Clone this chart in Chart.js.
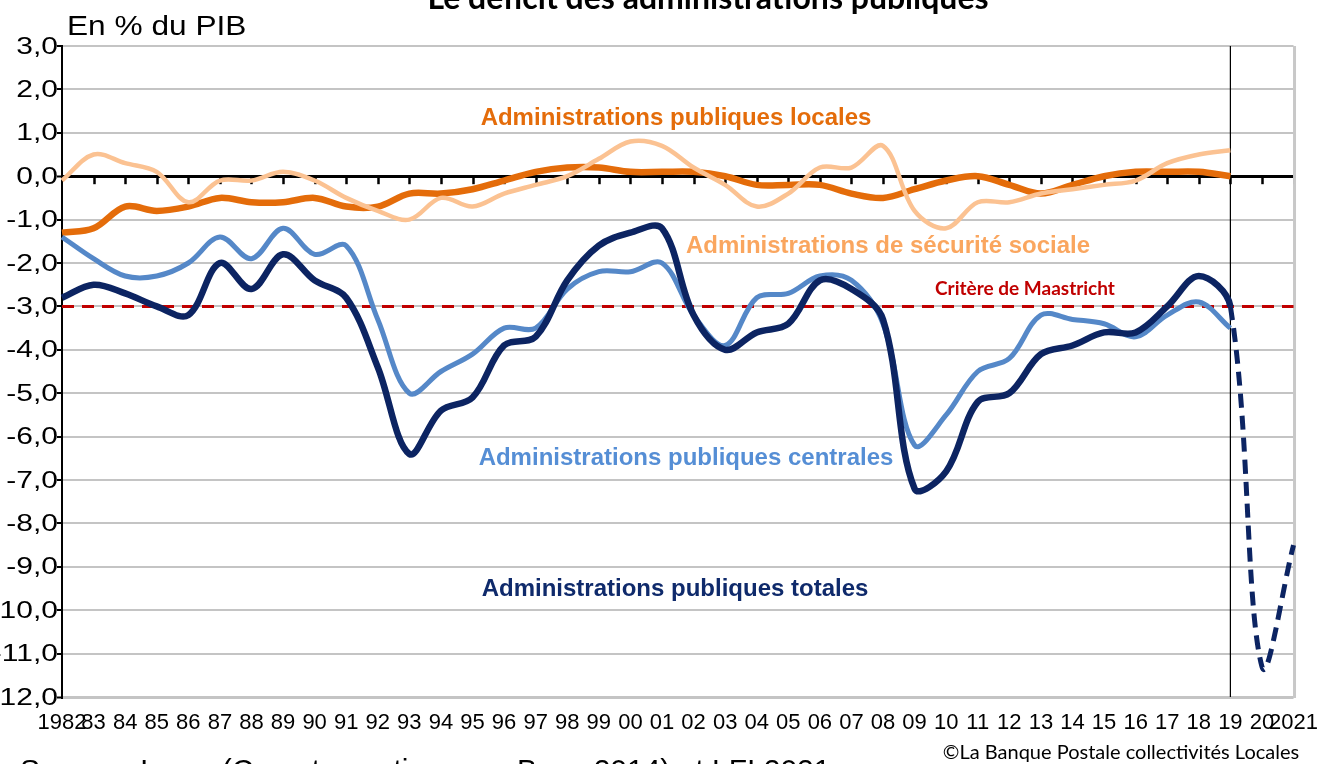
<!DOCTYPE html>
<html lang="fr">
<head>
<meta charset="utf-8">
<title>Le déficit des administrations publiques</title>
<script src="https://cdn.jsdelivr.net/npm/chart.js@4.4.1/dist/chart.umd.min.js"></script>
<style>
  html, body { margin: 0; padding: 0; background: #fff; }
  #wrap { width: 1331px; height: 764px; }
</style>
</head>
<body>
<div id="wrap"><canvas id="deficitChart" width="1331" height="764"></canvas></div>
<script>
// Années (étiquettes de l'axe horizontal)
const years = ['1982', '83', '84', '85', '86', '87', '88', '89', '90', '91',
    '92', '93', '94', '95', '96', '97', '98', '99', '00', '01',
    '02', '03', '04', '05', '06', '07', '08', '09', '10', '11',
    '12', '13', '14', '15', '16', '17', '18', '19', '20', '2021'];

// Solde en % du PIB, 1982 -> 2019
const apuLocales = [-1.3, -1.2, -0.7, -0.8, -0.7, -0.5, -0.6, -0.6, -0.5, -0.7,
    -0.7, -0.4, -0.4, -0.3, -0.1, 0.1, 0.2, 0.2, 0.1, 0.1,
    0.1, 0.0, -0.2, -0.2, -0.2, -0.4, -0.5, -0.3, -0.1, 0.0,
    -0.2, -0.4, -0.2, 0.0, 0.1, 0.1, 0.1, 0.0];

const securiteSociale = [-0.1, 0.5, 0.3, 0.1, -0.6, -0.1, -0.1, 0.1, -0.1, -0.5,
    -0.8, -1.0, -0.5, -0.7, -0.4, -0.2, 0.0, 0.4, 0.8, 0.7,
    0.2, -0.2, -0.7, -0.4, 0.2, 0.2, 0.7, -0.8, -1.2, -0.6,
    -0.6, -0.4, -0.3, -0.2, -0.1, 0.3, 0.5, 0.6];

const apuCentrales = [-1.4, -1.9, -2.3, -2.3, -2.0, -1.4, -1.9, -1.2, -1.8, -1.6,
    -3.3, -5.0, -4.5, -4.1, -3.5, -3.5, -2.6, -2.2, -2.2, -2.0,
    -3.2, -3.9, -2.8, -2.7, -2.3, -2.4, -3.4, -6.2, -5.5, -4.5,
    -4.2, -3.2, -3.3, -3.4, -3.7, -3.2, -2.9, -3.5];

// Total, 1982 -> 2021 (2020 et 2021 en prévision)
const apuTotales = [-2.8, -2.5, -2.7, -3.0, -3.2, -2.0, -2.6, -1.8, -2.4, -2.8,
    -4.4, -6.4, -5.4, -5.1, -3.9, -3.7, -2.4, -1.6, -1.3, -1.2,
    -3.2, -4.0, -3.6, -3.4, -2.4, -2.6, -3.3, -7.2, -6.8, -5.2,
    -5.0, -4.1, -3.9, -3.6, -3.6, -3.0, -2.3, -3.0, -11.3, -8.5];

const maastricht = -3;
const forecastFrom = '19';
const yMin = -12, yMax = 3;

const forecastIndex = years.indexOf(forecastFrom);
const fmt = v => v.toFixed(1).replace('.', ',');

// texte étiré horizontalement comme dans l'original
function stretchedText(ctx, text, x, y, sx) {
    ctx.save();
    ctx.translate(x, y);
    ctx.scale(sx, 1);
    ctx.fillText(text, 0, 0);
    ctx.restore();
}

const decorations = {
    id: 'decorations',
    beforeDatasetsDraw(chart) {
        const { ctx, chartArea, scales: { x, y } } = chart;
        const y0 = y.getPixelForValue(0);
        ctx.save();
        // graduations sous l'axe du zéro
        ctx.strokeStyle = '#000';
        ctx.lineWidth = 2.5;
        for (let i = 1; i < years.length; i++) {
            const px = Math.round(x.getPixelForValue(i)) + 0.5;
            ctx.beginPath();
            ctx.moveTo(px, y0);
            ctx.lineTo(px, y0 + 8);
            ctx.stroke();
        }
        // bord droit de la zone de tracé
        ctx.strokeStyle = '#c8c8c8';
        ctx.lineWidth = 3;
        ctx.beginPath();
        ctx.moveTo(chartArea.right + 1, chartArea.top);
        ctx.lineTo(chartArea.right + 1, chartArea.bottom + 1);
        ctx.stroke();

        // étiquettes de l'axe vertical
        ctx.fillStyle = '#000';
        ctx.textAlign = 'right';
        ctx.textBaseline = 'middle';
        ctx.font = '24px "Liberation Sans", Arial, sans-serif';
        y.ticks.forEach(t => {
            stretchedText(ctx, fmt(t.value), 58, y.getPixelForValue(t.value) + 1, 1.25);
        });
        ctx.restore();
    },
    afterDatasetsDraw(chart) {
        const ctx = chart.ctx;
        ctx.save();
        ctx.textAlign = 'center';
        ctx.textBaseline = 'middle';
        ctx.font = 'bold 24px "Liberation Sans", Arial, sans-serif';
        ctx.fillStyle = '#E46C0A';
        ctx.fillText('Administrations publiques locales', 676, 118);
        ctx.fillStyle = '#FAA65F';
        ctx.fillText('Administrations de sécurité sociale', 888, 246);
        ctx.fillStyle = '#558ED5';
        ctx.fillText('Administrations publiques centrales', 686, 458);
        ctx.fillStyle = '#0F2A6B';
        ctx.fillText('Administrations publiques totales', 675, 589);
        ctx.font = 'bold 19px Lato, "Open Sans", sans-serif';
        ctx.fillStyle = '#C00000';
        ctx.fillText('Critère de Maastricht', 1025, 289);

        // titre coupé en haut
        ctx.fillStyle = '#000';
        ctx.textBaseline = 'alphabetic';
        ctx.font = 'bold 32px Lato, "Open Sans", sans-serif';
        ctx.fillText('Le déficit des administrations publiques', 708, 9);

        ctx.textAlign = 'left';
        ctx.font = '28px "Liberation Sans", Arial, sans-serif';
        stretchedText(ctx, 'En % du PIB', 67, 35, 1.13);

        ctx.textAlign = 'center';
        ctx.font = '20px Lato, "Open Sans", sans-serif';
        ctx.fillText('©La Banque Postale collectivités Locales', 1121, 759);

        ctx.textAlign = 'left';
        ctx.textBaseline = 'top';
        ctx.font = '30px "Liberation Sans", Arial, sans-serif';
        ctx.fillText('Source : Insee (Comptes nationaux - Base 2014) et LFI 2021', 20, 757);
        ctx.restore();
    }
};

const ctx = document.getElementById('deficitChart').getContext('2d');

new Chart(ctx, {
    type: 'line',
    data: {
        labels: years,
        datasets: [
            {
                label: 'Administrations publiques totales',
                data: apuTotales,
                borderColor: '#0C2462',
                borderWidth: 6.5,
                tension: 0.35,
                pointRadius: 0,
                segment: {
                    borderDash: c => c.p0DataIndex >= forecastIndex ? [14, 8] : undefined,
                    borderWidth: c => c.p0DataIndex >= forecastIndex ? 5 : undefined
                }
            },
            {
                label: 'Administrations publiques centrales',
                data: apuCentrales,
                borderColor: '#5588C8',
                borderWidth: 5,
                tension: 0.35,
                pointRadius: 0
            },
            {
                label: 'Administrations de sécurité sociale',
                data: securiteSociale,
                borderColor: '#FBC292',
                borderWidth: 4.5,
                tension: 0.35,
                pointRadius: 0
            },
            {
                label: 'Administrations publiques locales',
                data: apuLocales,
                borderColor: '#E46C0A',
                borderWidth: 6.5,
                tension: 0.35,
                pointRadius: 0
            },
            {
                label: 'Critère de Maastricht',
                data: [
                    { x: years[0], y: maastricht },
                    { x: years[years.length - 1], y: maastricht }
                ],
                borderColor: '#C00000',
                borderWidth: 3,
                borderDash: [12, 8],
                pointRadius: 0,
                tension: 0
            },
            {
                label: 'Prévision',
                data: [
                    { x: forecastFrom, y: yMax },
                    { x: forecastFrom, y: yMin }
                ],
                borderColor: '#000',
                borderWidth: 1.2,
                pointRadius: 0,
                tension: 0
            }
        ]
    },
    options: {
        responsive: false,
        animation: false,
        devicePixelRatio: 1,
        layout: {
            padding: { top: 46, right: 36, left: 0, bottom: 0 }
        },
        plugins: {
            legend: { display: false },
            tooltip: { enabled: false },
            title: { display: false }
        },
        scales: {
            x: {
                afterFit: scale => { scale.height = 67; },
                grid: { display: false, drawTicks: false },
                border: { display: false },
                ticks: {
                    autoSkip: false,
                    maxRotation: 0,
                    padding: 13,
                    color: '#000',
                    font: { family: '"Liberation Sans", Arial, sans-serif', size: 22 }
                }
            },
            y: {
                min: yMin,
                max: yMax,
                afterFit: scale => { scale.width = 62; },
                border: { display: true, color: '#000', width: 2 },
                grid: {
                    color: c => c.tick && c.tick.value === 0 ? '#000' : '#c4c4c4',
                    lineWidth: c => c.tick && (c.tick.value === 0 || c.tick.value === yMin) ? 3 : 2,
                    tickColor: '#000',
                    tickWidth: 2,
                    tickLength: 5
                },
                ticks: {
                    stepSize: 1,
                    display: false
                }
            }
        }
    },
    plugins: [decorations]
});
</script>
</body>
</html>
